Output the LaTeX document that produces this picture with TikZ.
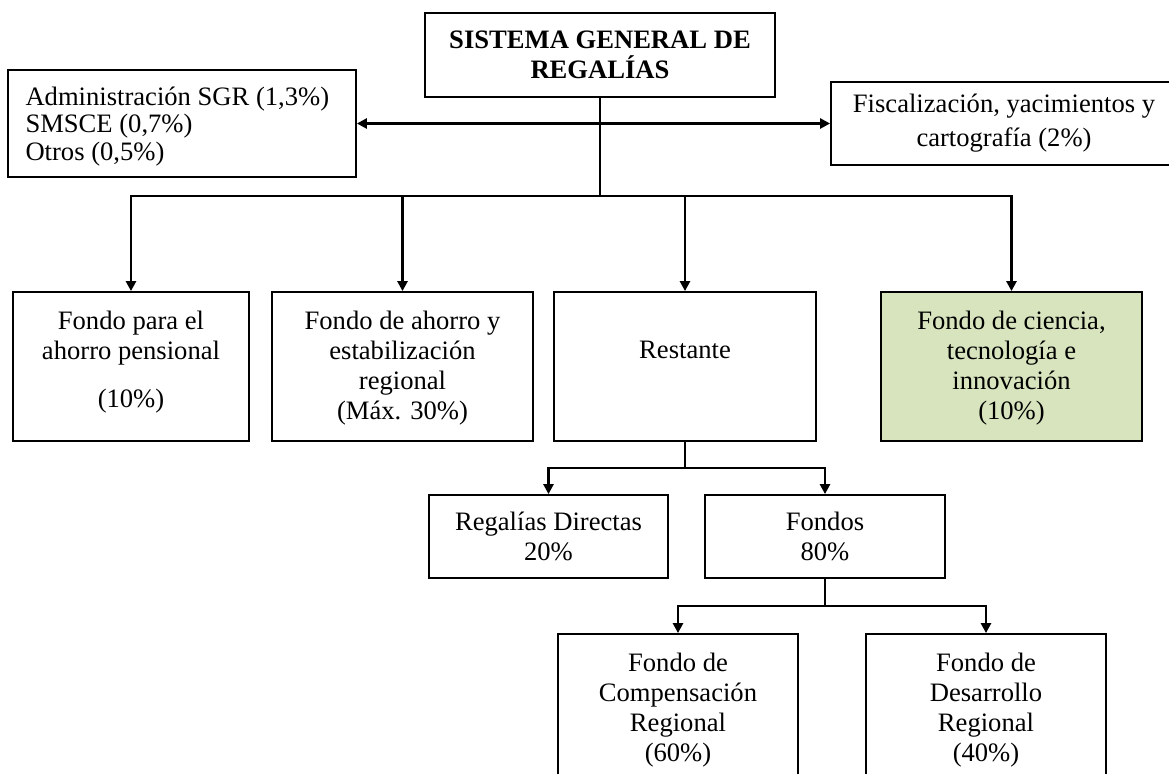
\documentclass[tikz,border=0pt]{standalone}
\usepackage{fontspec}
\setmainfont{Liberation Serif}
\usepackage{tikz}
\usetikzlibrary{arrows.meta}
\definecolor{verdeclaro}{RGB}{215,228,189}

\begin{document}
\begin{tikzpicture}[
    x=0.5pt, y=-0.5pt, % coordenadas en pixeles
    caja/.style={
        rectangle,
        draw=black,
        line width=0.9pt,
        fill=white,
        align=center,
        inner sep=2pt,
        font=\fontsize{13.3}{15}\selectfont
    },
    texto/.style={font=\fontsize{13.3}{15}\selectfont, align=center, inner sep=0pt},
    arriba/.style={label={[texto, anchor=north, yshift=-9.7pt]north:#1}},
    fila/.style={caja, minimum height=74.5pt},
    flecha/.style={line width=1.3pt, -{Triangle[length=5pt, width=5pt]}},
    doble/.style={line width=1.3pt, {Triangle[length=5pt, width=5pt]}-{Triangle[length=5pt, width=5pt]}}
]
\clip (0,0) rectangle (1169,773);

% ========== Nivel superior ==========
\node[caja, minimum width=175pt, minimum height=42pt, font=\bfseries\fontsize{13.3}{15}\selectfont] (sgr) at (600,55) {SISTEMA GENERAL DE\\REGALÍAS};
\node[caja, minimum width=174pt, minimum height=53.5pt] (admin) at (182,123.5) {};
\begin{scope}
    \clip (admin.north west) rectangle ([yshift=5pt]admin.south east);
    \node[anchor=west, align=left, inner sep=0pt, font=\fontsize{13.3}{13.8}\selectfont] (admintxt) at ([xshift=9pt, yshift=-1.5pt]admin.west) {Administración SGR (1,3\%)\\SMSCE (0,7\%)\\Otros (0,5\%)};
\end{scope}
\node[caja, minimum width=173pt, minimum height=41.5pt, font=\fontsize{13.3}{17}\selectfont] (fisc) at (1004,123.5) {Fiscalización, yacimientos y\\cartografía (2\%)};

% ========== Fondos principales ==========
\node[fila, minimum width=118pt, arriba={Fondo para el\\ahorro pensional\\[9pt](10\%)}] (pension) at (131,366.5) {};
\node[fila, minimum width=130.5pt, arriba={Fondo de ahorro y\\estabilización\\regional\\(Máx. 30\%)}] (ahorro) at (402.5,366.5) {};
\node[fila, minimum width=131pt, label={[texto, anchor=north, yshift=-25pt]north:Restante}] (restante) at (685,366.5) {};
\node[fila, minimum width=130.5pt, fill=verdeclaro, arriba={Fondo de ciencia,\\tecnología e\\innovación\\(10\%)}] (ciencia) at (1011.5,366.5) {};

% ========== Distribucion del restante ==========
\node[caja, minimum width=119.5pt, minimum height=41.5pt] (directas) at (548.5,536.5) {Regalías Directas\\20\%};
\node[caja, minimum width=120pt, minimum height=41.5pt] (fondos) at (825,536.5) {Fondos\\80\%};
\node[fila, minimum width=120pt, arriba={Fondo de\\Compensación\\Regional\\(60\%)}] (compensa) at (678,708.5) {};
\node[fila, minimum width=120pt, arriba={Fondo de\\Desarrollo\\Regional\\(40\%)}] (desarrollo) at (986,708.5) {};

% ========== Conexiones ==========
\coordinate (bus1) at (0,196);
\coordinate (bus2) at (0,468);
\coordinate (bus3) at (0,606);

\draw[doble] (admin.east) -- (fisc.west);
\foreach \destino in {pension, ahorro, restante, ciencia}
    \draw[flecha] (sgr.south) -- (sgr.south |- bus1) -| (\destino.north);
\foreach \destino in {directas, fondos}
    \draw[flecha] (restante.south) -- (restante.south |- bus2) -| (\destino.north);
\foreach \destino in {compensa, desarrollo}
    \draw[flecha] (fondos.south) -- (fondos.south |- bus3) -| (\destino.north);

\end{tikzpicture}
\end{document}
